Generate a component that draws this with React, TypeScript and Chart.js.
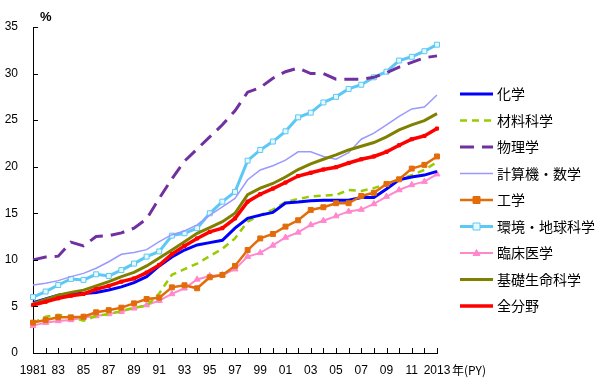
import React, { useEffect, useRef } from "react";
import { Chart, registerables } from "chart.js";

Chart.register(...registerables);

const years = Array.from({ length: 33 }, (_, i) => String(1981 + i));
const tickLabels = ["1981", "83", "85", "87", "89", "91", "93", "95", "97", "99", "01", "03", "05", "07", "09", "11", "2013"];

const chemistry = [5.4, 5.8, 6.2, 6.4, 6.4, 6.5, 6.77, 7.1, 7.55, 8.2, 9.35, 10.3, 11.06, 11.6, 11.85, 12.1, 13.4, 14.45, 14.8, 15.1, 16.1, 16.2, 16.35, 16.4, 16.4, 16.4, 16.7, 16.7, 17.6, 18.6, 18.9, 19.1, 19.5];
const materials = [3.2, 3.9, 4.1, 3.85, 3.47, 3.97, 4.19, 4.5, 4.87, 5.05, 6.4, 8.4, 9.0, 9.6, 10.4, 11.2, 12.3, 14.1, 14.8, 15.4, 16.2, 16.55, 16.8, 16.9, 16.97, 17.5, 17.4, 17.7, 18.15, 18.6, 19.1, 19.65, 20.5];
const physics = [10.0, 10.3, 10.4, 11.9, 11.5, 12.5, 12.6, 12.9, 13.4, 14.4, 16.6, 18.7, 20.6, 21.9, 23.2, 24.5, 26.0, 28.0, 28.5, 29.5, 30.2, 30.6, 30.0, 30.0, 29.4, 29.4, 29.4, 29.6, 30.1, 30.7, 31.2, 31.7, 31.9];
const compMath = [7.3, 7.5, 7.77, 8.2, 8.55, 9.1, 9.8, 10.6, 10.8, 11.1, 11.95, 12.7, 13.1, 13.75, 14.8, 15.7, 16.6, 18.6, 19.65, 20.1, 20.7, 21.6, 21.6, 21.1, 20.8, 21.5, 22.95, 23.6, 24.5, 25.4, 26.2, 26.4, 27.7];
const engineering = [3.26, 3.55, 3.83, 3.83, 3.9, 4.37, 4.6, 4.87, 5.33, 5.8, 5.94, 7.05, 7.27, 6.95, 8.13, 8.38, 9.35, 11.06, 12.3, 12.78, 13.57, 14.25, 15.36, 15.65, 16.08, 16.08, 16.86, 17.2, 18.15, 18.65, 19.8, 20.2, 21.1];
const environment = [6.0, 6.6, 7.3, 7.95, 7.85, 8.45, 8.27, 8.9, 9.6, 10.35, 10.9, 12.6, 12.85, 13.4, 15.0, 16.25, 17.3, 20.65, 21.8, 22.7, 23.8, 25.3, 25.8, 26.9, 27.5, 28.35, 28.8, 29.6, 30.2, 31.4, 31.8, 32.4, 33.1];
const clinical = [2.94, 3.26, 3.44, 3.55, 3.8, 3.97, 4.19, 4.44, 4.8, 5.15, 5.62, 6.34, 6.95, 7.9, 8.27, 8.38, 9.0, 10.35, 10.75, 11.55, 12.4, 12.95, 13.75, 14.2, 14.7, 15.2, 15.4, 16.0, 16.8, 17.5, 18.05, 18.4, 19.2];
const basicLife = [5.3, 5.75, 6.2, 6.5, 6.75, 7.2, 7.66, 8.2, 8.66, 9.35, 10.2, 11.06, 11.95, 12.85, 13.46, 14.1, 15.0, 17.0, 17.7, 18.2, 18.9, 19.7, 20.3, 20.8, 21.27, 21.8, 22.2, 22.6, 23.2, 23.95, 24.5, 24.95, 25.7];
const allFields = [5.15, 5.5, 5.87, 6.15, 6.34, 6.84, 7.2, 7.66, 8.0, 8.63, 9.45, 10.6, 11.5, 12.3, 13.0, 13.4, 14.45, 16.25, 17.05, 17.65, 18.3, 19.0, 19.35, 19.7, 19.95, 20.4, 20.8, 21.1, 21.6, 22.3, 22.95, 23.3, 24.1];

const seriesNames = ["化学", "材料科学", "物理学", "計算機・数学", "工学", "環境・地球科学", "臨床医学", "基礎生命科学", "全分野"];

const FONT = "'Liberation Sans', Arial, 'Noto Sans CJK JP', sans-serif";
const CJK = "'Noto Sans CJK JP', 'Liberation Sans', sans-serif";

export default function App() {
  const ref = useRef<HTMLCanvasElement | null>(null);
  useEffect(() => {
    if (!ref.current) return;
    const mk = (label: string, data: number[], o: any) => ({
      label,
      data,
      fill: false,
      tension: 0,
      pointRadius: 0,
      ...o,
    });
    const datasets: any[] = [
      mk(seriesNames[0], chemistry, { borderColor: "#0000FF", borderWidth: 3, order: 3 }),
      mk(seriesNames[1], materials, { borderColor: "#99CC00", borderWidth: 2.5, borderDash: [7, 5], order: 4 }),
      mk(seriesNames[2], physics, { borderColor: "#7030A0", borderWidth: 3, borderDash: [14, 8], order: 5 }),
      mk(seriesNames[3], compMath, { borderColor: "#9999FF", borderWidth: 1.5, order: 6 }),
      mk(seriesNames[4], engineering, { borderColor: "#E36C0A", borderWidth: 2.5, pointStyle: "rect", pointRadius: 3.5, pointBackgroundColor: "#E36C0A", pointBorderColor: "#E36C0A", pointBorderWidth: 1, order: 2 }),
      mk(seriesNames[5], environment, { borderColor: "#5BC8F5", borderWidth: 3, pointStyle: "rect", pointRadius: 3.5, pointBackgroundColor: "#E8F8FF", pointBorderColor: "#5BC8F5", pointBorderWidth: 1, order: 7 }),
      mk(seriesNames[6], clinical, { borderColor: "#FF88CC", borderWidth: 2, pointStyle: "triangle", pointRadius: 3.5, pointBackgroundColor: "#FF88CC", pointBorderColor: "#FF88CC", pointBorderWidth: 1, order: 8 }),
      mk(seriesNames[7], basicLife, { borderColor: "#808000", borderWidth: 3, order: 1 }),
      mk(seriesNames[8], allFields, { borderColor: "#FF0000", borderWidth: 3.5, pointStyle: "rect", pointRadius: 2.2, pointBackgroundColor: "#FF0000", pointBorderColor: "#FF0000", pointBorderWidth: 1, order: 0 }),
    ];

    const decor = {
      id: "decor",
      afterDraw(chart: any) {
        const ctx = chart.ctx;
        const xs = chart.scales.x;
        const ys = chart.scales.y;
        ctx.save();
        ctx.strokeStyle = "#000";
        ctx.lineWidth = 1;
        // inward ticks
        ctx.beginPath();
        for (let i = 0; i < years.length; i++) {
          const px = Math.round(xs.getPixelForValue(i)) + 0.5;
          ctx.moveTo(px, ys.bottom);
          ctx.lineTo(px, ys.bottom - 5);
        }
        for (let v = 0; v <= 35; v += 5) {
          const py = Math.round(ys.getPixelForValue(v)) + 0.5;
          ctx.moveTo(xs.left, py);
          ctx.lineTo(xs.left + 5, py);
        }
        ctx.stroke();
        // unit labels
        ctx.fillStyle = "#000";
        ctx.font = "bold 13px " + FONT;
        ctx.textAlign = "left";
        ctx.textBaseline = "middle";
        ctx.fillText("%", xs.left + 7, 17);
        ctx.font = "12px " + CJK;
        ctx.fillText("年(PY)", xs.right + 15, 370);
        // legend
        const lx0 = 460, lx1 = 493;
        const y0 = 94, dy = 26.5;
        chart.data.datasets.forEach((ds: any, i: number) => {
          const y = y0 + i * dy;
          ctx.save();
          ctx.strokeStyle = ds.borderColor;
          ctx.lineWidth = ds.borderWidth;
          ctx.setLineDash(ds.borderDash || []);
          ctx.beginPath();
          ctx.moveTo(lx0, y);
          ctx.lineTo(lx1, y);
          ctx.stroke();
          ctx.restore();
          if (ds.pointRadius && i !== 8) {
            const cx = (lx0 + lx1) / 2;
            const r = ds.pointRadius;
            ctx.fillStyle = ds.pointBackgroundColor;
            ctx.strokeStyle = ds.pointBorderColor;
            ctx.lineWidth = 1;
            ctx.beginPath();
            if (ds.pointStyle === "triangle") {
              ctx.moveTo(cx, y - r);
              ctx.lineTo(cx + r, y + r * 0.7);
              ctx.lineTo(cx - r, y + r * 0.7);
              ctx.closePath();
            } else {
              ctx.rect(cx - r, y - r, 2 * r, 2 * r);
            }
            ctx.fill();
            ctx.stroke();
          }
          ctx.fillStyle = "#000";
          ctx.font = "14px " + CJK;
          ctx.textAlign = "left";
          ctx.textBaseline = "middle";
          ctx.fillText(ds.label, 497, y);
        });
        ctx.restore();
      },
    };

    const chart = new Chart(ref.current, {
      type: "line",
      data: { labels: years, datasets },
      options: {
        responsive: false,
        animation: false,
        layout: { padding: { left: 0, right: 163, top: 27, bottom: 0 } },
        plugins: { legend: { display: false }, tooltip: { enabled: false } },
        scales: {
          x: {
            type: "category",
            offset: false,
            grid: { display: false, drawTicks: false },
            border: { display: true, color: "#000", width: 1 },
            afterFit: (s: any) => { s.height = 27; },
            ticks: {
              autoSkip: false,
              maxRotation: 0,
              minRotation: 0,
              padding: 10,
              color: "#000",
              font: { size: 12, family: FONT },
              callback: (_v: any, i: number) => (i % 2 === 0 ? tickLabels[i / 2] : ""),
            },
          },
          y: {
            min: 0,
            max: 35,
            grid: { display: false, drawTicks: false },
            border: { display: true, color: "#000", width: 1 },
            afterFit: (s: any) => { s.width = 33; },
            ticks: {
              stepSize: 5,
              padding: 15,
              color: "#000",
              font: { size: 12, family: FONT },
            },
          },
        },
      },
      plugins: [decor],
    } as any);
    return () => chart.destroy();
  }, []);

  return (
    <div style={{ position: "fixed", left: 0, top: 0, width: 600, height: 380, background: "#fff" }}>
      <canvas ref={ref} width={600} height={380} style={{ width: 600, height: 380 }} />
    </div>
  );
}
